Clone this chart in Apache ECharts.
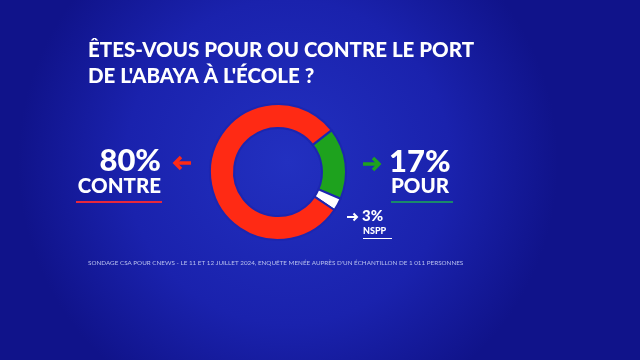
<!DOCTYPE html>
<html><head><meta charset="utf-8">
<script src="https://cdn.jsdelivr.net/npm/echarts@6/dist/echarts.min.js"></script>
<style>html,body{margin:0;padding:0;}#c{width:640px;height:360px;}</style>
</head><body><div id="c"></div>
<script>
const titleLines = ["ÊTES-VOUS POUR OU CONTRE LE PORT", "DE L'ABAYA À L'ÉCOLE ?"];
const categories = ["POUR", "NSPP", "CONTRE"];
const values = [17, 3, 80];
const colors = ["#1ea21e", "#ffffff", "#ff2a14"];
const source = "SONDAGE CSA POUR CNEWS - LE 11 ET 12 JUILLET 2024, ENQUÊTE MENÉE AUPRÈS D'UN ÉCHANTILLON DE 1 011 PERSONNES";

const font = "'Lato', 'Open Sans', sans-serif";
const chart = echarts.init(document.getElementById('c'));
const pct = v => v + '%';

function arrow(x0, x1, y, h, color, w, left) {
  const tip = left ? x0 : x1;
  const dir = left ? 1 : -1;
  return [
    {type:'polyline', shape:{points:[[x0,y],[x1,y]]}, style:{stroke:color, lineWidth:w, fill:null}},
    {type:'polyline', shape:{points:[[tip+dir*h,y-h],[tip,y],[tip+dir*h,y+h]]}, style:{stroke:color, lineWidth:w, fill:null, lineJoin:'miter'}}
  ];
}

chart.setOption({
  backgroundColor: {type:'radial', x:0.45, y:0.45, r:0.75,
    colorStops:[{offset:0,color:'#2230c0'},{offset:0.6,color:'#1a22ad'},{offset:1,color:'#10138a'}]},
  animation:false,
  series:[{
    type:'pie', center:[278,172], radius:[44,68], startAngle:38, clockwise:true,
    label:{show:false}, labelLine:{show:false},
    itemStyle:{borderColor:'#1c26b0', borderWidth:2},
    data: categories.map((c,i)=>({name:c, value:values[i], itemStyle:{color:colors[i]}}))
  }],
  graphic:[
    {type:'text', left:88, top:40, style:{text:titleLines[0], fill:'#fff', font:'900 20.5px '+font}},
    {type:'text', left:88, top:66, style:{text:titleLines[1], fill:'#fff', font:'900 20.5px '+font}},
    // CONTRE
    {type:'text', right:640-161, top:145, style:{text:pct(values[2]), fill:'#fff', font:'900 31px '+font}},
    {type:'text', right:640-161, top:176, style:{text:categories[2], fill:'#fff', font:'900 20.5px '+font}},
    {type:'rect', shape:{x:76, y:201, width:86, height:2}, style:{fill:'#e8283c'}},
    ...arrow(175, 191, 163, 6, '#ff2a14', 3.5, true),
    // POUR
    ...arrow(363, 379, 164, 6, '#1ea21e', 3.5, false),
    {type:'text', left:389, top:146, style:{text:pct(values[0]), fill:'#fff', font:'900 31px '+font}},
    {type:'text', left:391, top:176, style:{text:categories[0], fill:'#fff', font:'900 20.5px '+font}},
    {type:'rect', shape:{x:391, y:201, width:62, height:2}, style:{fill:'#1a8a6a'}},
    // NSPP
    ...arrow(347, 357, 217, 3.5, '#ffffff', 2, false),
    {type:'text', left:362, top:209, style:{text:pct(values[1]), fill:'#fff', font:'900 15px '+font}},
    {type:'text', left:363, top:227, style:{text:categories[1], fill:'#fff', font:'900 9px '+font}},
    {type:'rect', shape:{x:363, y:238, width:29, height:1}, style:{fill:'#ffffff'}},
    // source
    {type:'text', left:88, top:260, style:{text:source, fill:'#b8c0ee', font:'6.3px '+font}}
  ]
});
</script></body></html>
